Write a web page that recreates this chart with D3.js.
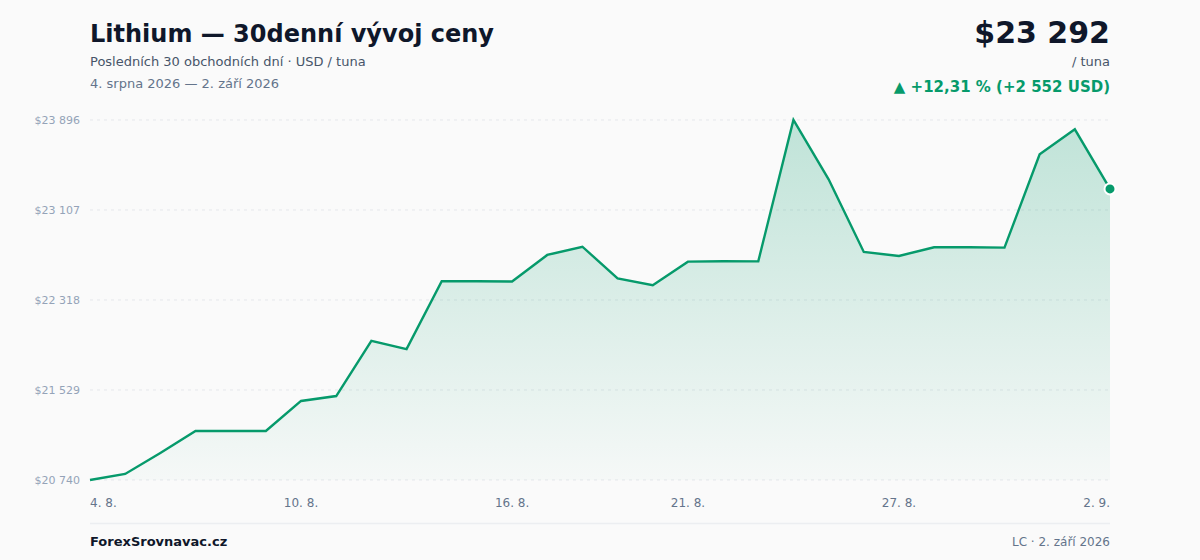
<!DOCTYPE html>
<html>
<head>
<meta charset="utf-8">
<script src="https://cdn.jsdelivr.net/npm/d3@7"></script>
<style>
  html, body { margin: 0; padding: 0; background: #fafafa; }
  svg { display: block; font-family: "DejaVu Sans", sans-serif; }
</style>
</head>
<body>
<div id="chart"></div>
<script>
// 30 consecutive days, 4. 8. 2026 – 2. 9. 2026
const dates = [
  '2026-08-04', '2026-08-05', '2026-08-06', '2026-08-07', '2026-08-08',
  '2026-08-09', '2026-08-10', '2026-08-11', '2026-08-12', '2026-08-13',
  '2026-08-14', '2026-08-15', '2026-08-16', '2026-08-17', '2026-08-18',
  '2026-08-19', '2026-08-20', '2026-08-21', '2026-08-22', '2026-08-23',
  '2026-08-24', '2026-08-25', '2026-08-26', '2026-08-27', '2026-08-28',
  '2026-08-29', '2026-08-30', '2026-08-31', '2026-09-01', '2026-09-02'
]
const prices = [
  20740, 20793, 20977, 21170, 21170, 21170, 21433, 21476, 21959, 21888,
  22482, 22482, 22480, 22713, 22785, 22508, 22447, 22654, 22658, 22657,
  23896, 23376, 22739, 22704, 22780, 22780, 22777, 23595, 23814, 23292
]
const tickIdx = [0, 6, 12, 17, 23, 29]
const tickLabels = ['4. 8.', '10. 8.', '16. 8.', '21. 8.', '27. 8.', '2. 9.']
const changeLabel = '▲ +12,31 % (+2 552 USD)'

const W = 1200, H = 560
const margin = { top: 120, right: 90, bottom: 80, left: 90 }
const green = '#069a6b'
const fmt = n => n.toString().replace(/\B(?=(\d{3})+(?!\d))/g, ' ')

const svg = d3.select('#chart').append('svg')
  .attr('width', W).attr('height', H)

svg.append('rect').attr('width', W).attr('height', H).attr('fill', '#fafafa')

const x = d3.scaleLinear().domain([0, dates.length - 1]).range([margin.left, W - margin.right])
const yMin = d3.min(prices), yMax = d3.max(prices)
const y = d3.scaleLinear().domain([yMin, yMax]).range([H - margin.bottom, margin.top])

// Header
svg.append('text').attr('x', 90).attr('y', 42)
  .attr('font-size', 24).attr('font-weight', 700).attr('fill', '#0f172a')
  .text('Lithium — 30denní vývoj ceny')
svg.append('text').attr('x', 90).attr('y', 66)
  .attr('font-size', 13).attr('fill', '#475569')
  .text('Posledních 30 obchodních dní · USD / tuna')
svg.append('text').attr('x', 90).attr('y', 88)
  .attr('font-size', 13).attr('fill', '#64748b')
  .text('4. srpna 2026 — 2. září 2026')

const last = prices[prices.length - 1]
svg.append('text').attr('x', 1110).attr('y', 43).attr('text-anchor', 'end')
  .attr('font-size', 30).attr('font-weight', 700).attr('fill', '#0f172a')
  .text('$' + fmt(last))
svg.append('text').attr('x', 1110).attr('y', 66).attr('text-anchor', 'end')
  .attr('font-size', 13).attr('fill', '#475569')
  .text('/ tuna')
svg.append('text').attr('x', 1110).attr('y', 92).attr('text-anchor', 'end')
  .attr('font-size', 15).attr('font-weight', 700).attr('fill', green)
  .text(changeLabel)

// Gridlines + y labels
const yTicks = d3.range(5).map(i => yMin + (yMax - yMin) * i / 4)
const grid = svg.append('g')
yTicks.forEach(t => {
  grid.append('line')
    .attr('x1', x(0)).attr('x2', x(dates.length - 1))
    .attr('y1', y(t)).attr('y2', y(t))
    .attr('stroke', '#e5e7eb').attr('stroke-width', 1)
    .attr('stroke-dasharray', '3,4')
  grid.append('text')
    .attr('x', 80).attr('y', y(t)).attr('dy', '0.35em')
    .attr('text-anchor', 'end').attr('font-size', 11).attr('fill', '#94a3b8')
    .text('$' + fmt(Math.round(t)))
})

// Area gradient
const defs = svg.append('defs')
const grad = defs.append('linearGradient').attr('id', 'fillGrad')
  .attr('x1', 0).attr('x2', 0).attr('y1', 0).attr('y2', 1)
grad.append('stop').attr('offset', '0%').attr('stop-color', green).attr('stop-opacity', 0.24)
grad.append('stop').attr('offset', '100%').attr('stop-color', green).attr('stop-opacity', 0.02)

const area = d3.area()
  .x((d, i) => x(i))
  .y0(y(yMin))
  .y1(d => y(d))
svg.append('path').datum(prices)
  .attr('d', area).attr('fill', 'url(#fillGrad)')

const line = d3.line().x((d, i) => x(i)).y(d => y(d))
svg.append('path').datum(prices)
  .attr('d', line).attr('fill', 'none')
  .attr('stroke', green).attr('stroke-width', 2.4)
  .attr('stroke-linejoin', 'miter')

svg.append('circle')
  .attr('cx', x(prices.length - 1)).attr('cy', y(last)).attr('r', 5.5)
  .attr('fill', green).attr('stroke', '#ffffff').attr('stroke-width', 2)

// X labels
tickIdx.forEach((idx, k) => {
  svg.append('text')
    .attr('x', x(idx)).attr('y', 507)
    .attr('text-anchor', k === 0 ? 'start' : k === tickIdx.length - 1 ? 'end' : 'middle')
    .attr('font-size', 12).attr('fill', '#64748b')
    .text(tickLabels[k])
})

// Footer
svg.append('line').attr('x1', 90).attr('x2', 1110).attr('y1', 523.5).attr('y2', 523.5)
  .attr('stroke', '#eceef1').attr('stroke-width', 1.5)
svg.append('text').attr('x', 90).attr('y', 546)
  .attr('font-size', 13).attr('font-weight', 700).attr('fill', '#0f172a')
  .text('ForexSrovnavac.cz')
svg.append('text').attr('x', 1110).attr('y', 546).attr('text-anchor', 'end')
  .attr('font-size', 12).attr('fill', '#64748b')
  .text('LC · 2. září 2026')
</script>
</body>
</html>
